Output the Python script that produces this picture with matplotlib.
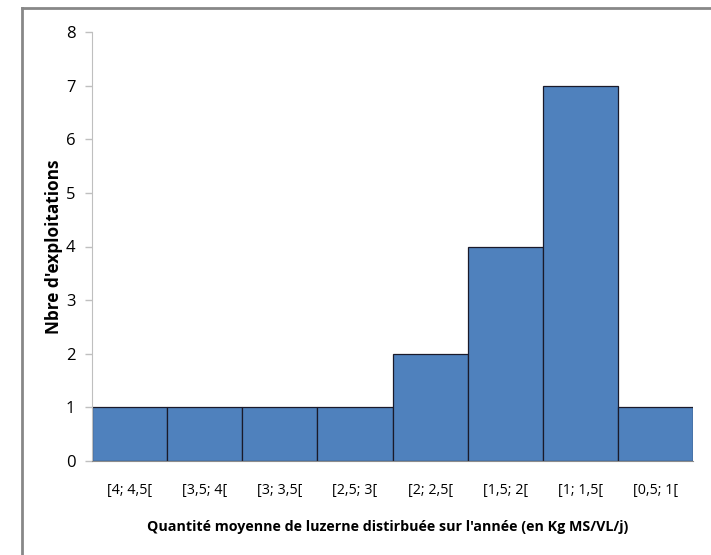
import matplotlib.pyplot as plt
from matplotlib.lines import Line2D

classes = ['[4; 4,5[', '[3,5; 4[', '[3; 3,5[', '[2,5; 3[',
           '[2; 2,5[', '[1,5; 2[', '[1; 1,5[', '[0,5; 1[']
nb_exploitations = [1, 1, 1, 1, 2, 4, 7, 1]

plt.rcParams['font.family'] = ['Open Sans', 'DejaVu Sans']

fig = plt.figure(figsize=(7.11, 5.55), dpi=100)
ax = fig.add_axes([92 / 711, 94 / 555, 601 / 711, 429 / 555])

x = list(range(len(classes)))
ax.bar(x, nb_exploitations, width=1.0, color='#4F81BD',
       edgecolor='#1a1a2a', linewidth=0.9)

ax.set_xlim(-0.5, len(classes) - 0.5)
ax.set_ylim(0, 8)
ax.set_yticks(range(0, 9))
ax.set_xticks(x)
ax.set_xticklabels(classes, fontsize=10.3)
ax.tick_params(axis='x', length=0, pad=16)
ax.tick_params(axis='y', length=5, width=1, color='#bfbfbf', labelsize=12,
               pad=7)

for side in ['top', 'right']:
    ax.spines[side].set_visible(False)
ax.spines['left'].set_color('#bfbfbf')
ax.spines['bottom'].set_color('#8c8c8c')

ax.set_xlabel("Quantité moyenne de luzerne distirbuée sur l'année (en Kg MS/VL/j)",
              fontsize=10.3, fontweight='bold')
ax.xaxis.set_label_coords(0.492, -0.137)
ax.set_ylabel("Nbre d'exploitations", fontsize=12.4, fontweight='bold')
ax.yaxis.set_label_coords(-0.048, 0.5)

# cadre gris autour du graphique
fig.add_artist(Line2D([22 / 711, 22 / 711], [0, 1 - 8 / 555],
                      transform=fig.transFigure, color='#888888', lw=2))
fig.add_artist(Line2D([22 / 711, 1], [1 - 8 / 555, 1 - 8 / 555],
                      transform=fig.transFigure, color='#888888', lw=2))

fig.savefig('out.png', dpi=100)
